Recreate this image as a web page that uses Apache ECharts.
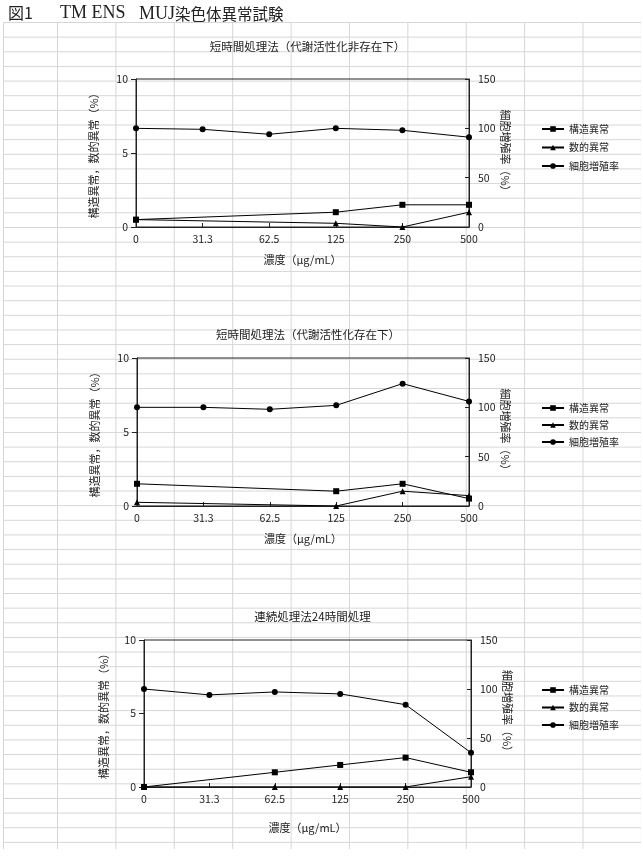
<!DOCTYPE html>
<html>
<head>
<meta charset="utf-8">
<script src="https://cdn.jsdelivr.net/npm/echarts@6/dist/echarts.min.js"></script>
<style>
	body { margin: 0; background: #fff; }
	#sheet {
		position: absolute; left: 3px; top: 22px; width: 637px; height: 826px;
		border-left: 1px solid #d6d6d6; border-top: 1px solid #d6d6d6;
		background-image:
			linear-gradient(to right, transparent 57.4px, #d6d6d6 57.4px),
			linear-gradient(to bottom, transparent 13.65px, #d6d6d6 13.65px);
		background-size: 58.4px 100%, 100% 14.65px;
		background-position: -4.4px 0, 0 0;
	}
	#chart { position: absolute; left: 0; top: 0; width: 643px; height: 857px; }
</style>
</head>
<body>
<div id="sheet"></div>
<div id="chart"></div>
<script>
var concentrations = ['0', '31.3', '62.5', '125', '250', '500'];
var leftTicks = [0, 5, 10];
var rightTicks = [0, 50, 100, 150];

// 短時間処理法（代謝活性化非存在下）
var struct1 = [0.5, null, null, 1.0, 1.5, 1.5];
var numer1 = [0.5, null, null, 0.25, 0, 1.0];
var growth1 = [100, 99, 94, 100, 98, 91];

// 短時間処理法（代謝活性化存在下）
var struct2 = [1.5, null, null, 1.0, 1.5, 0.5];
var numer2 = [0.25, null, null, 0, 1.0, 0.7];
var growth2 = [100, 100, 98, 102, 124, 106];

// 連続処理法24時間処理
var struct3 = [0, null, 1.0, 1.5, 2.0, 1.0];
var numer3 = [0, null, 0, 0, 0, 0.7];
var growth3 = [100, 94, 97, 95, 84, 35];

var titles = ['短時間処理法（代謝活性化非存在下）', '短時間処理法（代謝活性化存在下）', '連続処理法24時間処理'];
var seriesNames = ['構造異常', '数的異常', '細胞増殖率'];

var font = '"Noto Sans CJK JP", sans-serif';
var serif = '"Liberation Serif", "DejaVu Serif", serif';
var ink = '#222';

var panels = [
	{ s: struct1, n: numer1, g: growth1, left: 136, top: 79, bottom: 227, right: 469, titleY: 36, xGap: 27, lGap: 37, legendTop: 119, legendGap: 8.5 },
	{ s: struct2, n: numer2, g: growth2, left: 137, top: 358, bottom: 506, right: 469, titleY: 324, xGap: 27, lGap: 37, legendTop: 398, legendGap: 7 },
	{ s: struct3, n: numer3, g: growth3, left: 144, top: 640, bottom: 787, right: 471, titleY: 606, xGap: 35, lGap: 35, legendTop: 680, legendGap: 7.5 }
];

var option = {
	animation: false,
	backgroundColor: 'transparent',
	textStyle: { fontFamily: font, color: ink },
	title: [{
		text: '図1', left: 3, top: 0,
		textStyle: { fontFamily: font, fontSize: 16, fontWeight: 'normal', color: ink }
	}, {
		text: 'TM ENS', left: 55, top: -1,
		textStyle: { fontFamily: serif, fontSize: 18, fontWeight: 'normal', color: ink }
	}, {
		text: '{s|MUJ}{c|染色体異常試験}', left: 134, top: 0,
		textStyle: {
			fontWeight: 'normal',
			rich: {
				s: { fontFamily: serif, fontSize: 18, fontWeight: 'normal', color: ink },
				c: { fontFamily: font, fontSize: 15.5, fontWeight: 'normal', color: ink }
			}
		}
	}],
	grid: [], xAxis: [], yAxis: [], legend: [], series: []
};

panels.forEach(function (p, i) {
	option.title.push({
		text: titles[i],
		left: (p.left + p.right) / 2, top: p.titleY, textAlign: 'center',
		textStyle: { fontFamily: font, fontSize: 11.5, fontWeight: 'normal', color: ink }
	});
	option.grid.push({
		left: p.left, top: p.top, width: p.right - p.left, height: p.bottom - p.top,
		show: true, borderColor: ink, borderWidth: 1, backgroundColor: 'transparent'
	});
	option.xAxis.push({
		type: 'category', gridIndex: i, data: concentrations, boundaryGap: false,
		name: '濃度（μg/mL）', nameLocation: 'middle', nameGap: p.xGap,
		nameTextStyle: { fontSize: 11, color: ink },
		axisLine: { lineStyle: { color: ink } },
		axisTick: { inside: true, length: 4, lineStyle: { color: ink } },
		axisLabel: { fontSize: 10.5, color: ink, margin: 7 }
	});
	option.yAxis.push({
		type: 'value', gridIndex: i, position: 'left', min: leftTicks[0], max: leftTicks[leftTicks.length - 1],
		interval: leftTicks[1] - leftTicks[0],
		name: '構造異常，数的異常（%）', nameLocation: 'middle', nameGap: p.lGap,
		nameTextStyle: { fontSize: 11, color: ink },
		axisLine: { show: true, lineStyle: { color: ink } },
		axisTick: { show: true, length: 5, lineStyle: { color: ink } },
		axisLabel: { fontSize: 10.5, color: ink, margin: 8 },
		splitLine: { show: false }
	});
	option.yAxis.push({
		type: 'value', gridIndex: i, position: 'right', min: rightTicks[0], max: rightTicks[rightTicks.length - 1],
		interval: rightTicks[1] - rightTicks[0],
		name: '細胞増殖率（%）', nameLocation: 'middle', nameGap: 31, nameRotate: -90, nameMoveOverlap: false,
		nameTextStyle: { fontSize: 11, color: ink },
		axisLine: { show: true, lineStyle: { color: ink } },
		axisTick: { show: true, inside: true, length: 4, lineStyle: { color: ink } },
		axisLabel: { fontSize: 10.5, color: ink, margin: 9 },
		splitLine: { show: false }
	});
	option.legend.push({
		orient: 'vertical', left: 536, top: p.legendTop,
		itemWidth: 22, itemHeight: 7, itemGap: p.legendGap,
		textStyle: { fontSize: 10, color: ink, fontFamily: font },
		data: seriesNames.map(function (n) { return { name: n }; })
	});
	var sets = [[p.s, 'rect', 6], [p.n, 'triangle', 6], [p.g, 'circle', 6]];
	sets.forEach(function (d, k) {
		option.series.push({
			name: seriesNames[k], type: 'line',
			xAxisIndex: i, yAxisIndex: i * 2 + (k === 2 ? 1 : 0),
			data: d[0], connectNulls: true,
			symbol: d[1], symbolSize: d[2],
			itemStyle: { color: '#000' },
			lineStyle: { color: '#000', width: 1 }
		});
	});
});

echarts.init(document.getElementById('chart')).setOption(option);
</script>
</body>
</html>
